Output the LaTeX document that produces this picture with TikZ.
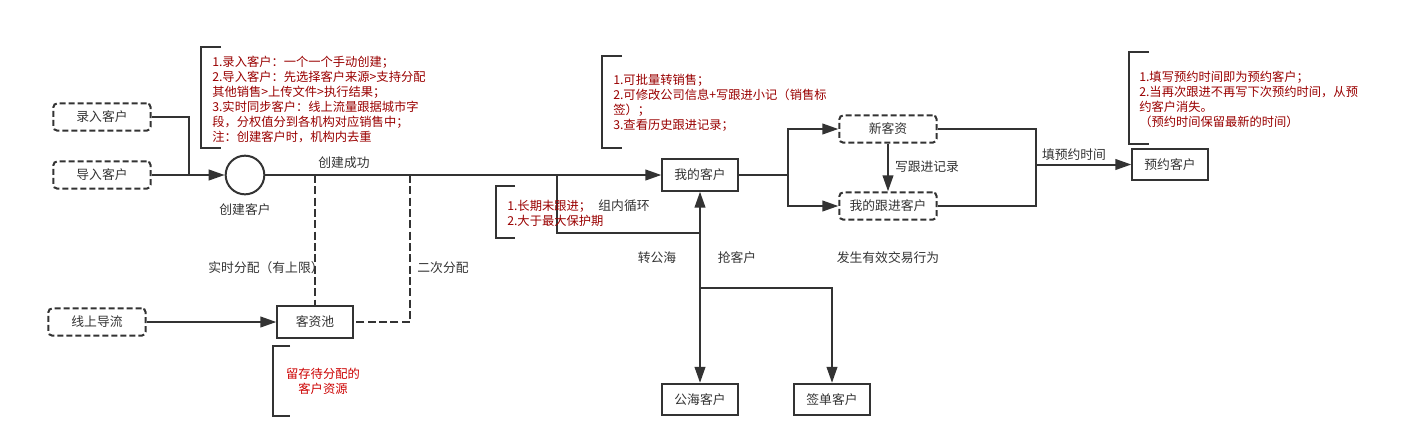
\documentclass[tikz,border=0pt]{standalone}
\usepackage{fontspec}
\setmainfont{Noto Sans CJK SC}
\usetikzlibrary{arrows.meta}

\definecolor{linegray}{HTML}{333333}
\definecolor{notered}{HTML}{990000}
\definecolor{brightred}{HTML}{CC0000}

\tikzset{
    every node/.style = {text = linegray, font = \fontsize{9.6}{11.25}\selectfont},
    dashbox/.style = {draw = linegray, line width = 1.5pt, dash pattern = on 4.5pt off 2.25pt,
        rounded corners = 3pt, minimum width = 73pt, minimum height = 20.5pt},
    solidbox/.style = {draw = linegray, line width = 1.5pt, minimum width = 56.5pt, minimum height = 23.5pt},
    link/.style = {draw = linegray, line width = 1.5pt},
    flow/.style = {link, -{Triangle[length = 12pt, width = 8pt]}},
    dashlink/.style = {draw = linegray, line width = 1.5pt, dash pattern = on 6pt off 2.5pt},
    note/.style = {align = left, text = notered, inner sep = 0pt, anchor = base west,
        font = \fontsize{9.2}{11.25}\selectfont},
    bracket/.style = {draw = linegray, line width = 1.5pt}
}

\begin{document}
\begin{tikzpicture}[x = 0.75pt, y = -0.75pt]
            \useasboundingbox (0,0) rectangle (1407,447);

            % boxes
            \node[dashbox] (entry) at (102,117) {录入客户};
            \node[dashbox] (import) at (102,175) {导入客户};
            \node[dashbox] (online) at (97,322) {线上导流};
            \node[draw = linegray, line width = 1.5pt, circle, minimum size = 29pt] (create) at (245,175) {};
            \node[solidbox] (pool) at (315,322) {客资池};
            \node[solidbox] (mine) at (700,175) {我的客户};
            \node[dashbox] (fresh) at (888,129) {新客资};
            \node[dashbox] (follow) at (888,206) {我的跟进客户};
            \node[solidbox] (booked) at (1170,164.5) {预约客户};
            \node[solidbox] (sea) at (700,399.5) {公海客户};
            \node[solidbox] (deal) at (832,399.5) {签单客户};

            \coordinate (join) at (189,175);
            \coordinate (split1) at (315,175);
            \coordinate (split2) at (410,175);
            \coordinate (loop) at (557,175);
            \coordinate (loopend) at (700,233);
            \coordinate (branch) at (700,288);
            \coordinate (fork) at (788,175);
            \coordinate (merge) at (1036,206);
            \coordinate (mergeout) at (1036,164.5);

            % connectors
            \draw[link] (entry.east) -| (join);
            \draw[flow] (import.east) -- (create.west);
            \draw[flow] (create.east) -- (mine.west);
            \draw[dashlink] (split1) -- (pool.north);
            \draw[dashlink] (split2) |- (pool.east);
            \draw[flow] (online.east) -- (pool.west);
            \draw[link] (loop) |- (loopend);
            \draw[link, {Triangle[length = 12pt, width = 8pt]}-{Triangle[length = 12pt, width = 8pt]}] (mine.south) -- (sea.north);
            \draw[flow] (branch) -| (deal.north);
            \draw[link] (mine.east) -- (fork);
            \draw[flow] (fork) |- (fresh.west);
            \draw[flow] (fork) |- (follow.west);
            \draw[flow] (fresh.south) -- (follow.north);
            \draw[link] (fresh.east) -| (merge) -- (follow.east);
            \draw[flow] (mergeout) -- (booked.west);

            % labels
            \node (createlabel) at (245,210) {创建客户};
            \node (okl) at (344,163) {创建成功};
            \node (reall) at (266,268) {实时分配（有上限）};
            \node (secondl) at (443,268) {二次分配};
            \node (loopl) at (624,206) {组内循环};
            \node (seal) at (657,258) {转公海};
            \node (grabl) at (737,258) {抢客户};
            \node (dealt) at (888,258) {发生有效交易行为};
            \node (writel) at (927,167) {写跟进记录};
            \node (fill) at (1074,155) {填预约时间};

            % notes (anchored at the last line)
            \draw[bracket] (221,47) -- (201,47) -- (201,148) -- (221,148);
            \node[note] (notecreate) at (212,141) {1.录入客户：一个一个手动创建；\\2.导入客户：先选择客户来源>支持分配\\其他销售>上传文件>执行结果；\\3.实时同步客户：线上流量跟据城市字\\段，分权值分到各机构对应销售中；\\注：创建客户时，机构内去重};

            \draw[bracket] (622,56) -- (602,56) -- (602,148) -- (622,148);
            \node[note] (notemine) at (613,129) {1.可批量转销售；\\2.可修改公司信息+写跟进小记（销售标\\签）；\\3.查看历史跟进记录；};

            \draw[bracket] (515,186) -- (496,186) -- (496,238) -- (515,238);
            \node[note] (noteloop) at (507,225) {1.长期未跟进；\\2.大于最大保护期};

            \draw[bracket] (1149,52) -- (1129,52) -- (1129,144) -- (1149,144);
            \node[note] (notebooked) at (1139,126) {1.填写预约时间即为预约客户；\\2.当再次跟进不再写下次预约时间，从预\\约客户消失。\\（预约时间保留最新的时间）};

            \draw[bracket] (290,346) -- (273,346) -- (273,416) -- (290,416);
            \node[note, align = center, anchor = base, text = brightred] (notepool) at (323,393.5) {留存待分配的\\客户资源};
        \end{tikzpicture}
\end{document}
